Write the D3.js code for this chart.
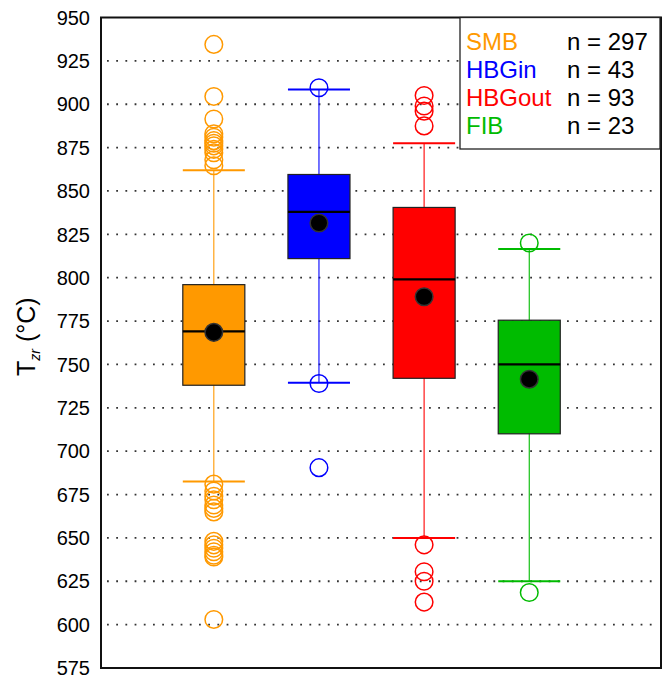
<!DOCTYPE html>
<html>
<head>
<meta charset="utf-8">
<script src="https://cdn.jsdelivr.net/npm/d3@7"></script>
<style>
  html, body { margin: 0; padding: 0; background: #fff; }
  svg { display: block; font-family: "Liberation Sans", Arial, sans-serif; }
</style>
</head>
<body>
<svg id="chart" width="667" height="680"></svg>
<script>
// Zircon saturation temperature by group
const categories = ["SMB", "HBGin", "HBGout", "FIB"];
const counts = [297, 43, 93, 23];
const colors = ["#ff9900", "#0000ff", "#ff0000", "#00bb00"];
const q1 = [738, 811, 742, 710];
const medians = [769, 838, 799, 750];
const q3 = [796, 859.5, 840.5, 775.5];
const whiskerLow = [682.5, 739.5, 650, 625];
const whiskerHigh = [862, 908.5, 877.5, 816.5];
const means = [768.5, 831.5, 789, 741.5];
const outliersSMB = [934.5, 904.5, 891.5, 883, 881, 879, 877.5, 876, 874, 872, 868, 864.5,
                     681, 677, 674, 672, 669, 667, 665, 648, 646, 644, 642, 640, 639, 603];
const outliersHBGin = [909.5, 739, 690.5];
const outliersHBGout = [905, 899, 896, 887.5, 646, 630.5, 625, 613];
const outliersFIB = [820, 618.5];
const outliers = [outliersSMB, outliersHBGin, outliersHBGout, outliersFIB];
const yTicks = [575, 600, 625, 650, 675, 700, 725, 750, 775, 800, 825, 850, 875, 900, 925, 950];
const gridValues = [600, 625, 650, 675, 700, 725, 750, 775, 800, 825, 850, 875, 900, 925];

const svg = d3.select("#chart");
const frame = { left: 101, right: 661, top: 17.5, bottom: 668 };

const y = d3.scaleLinear().domain([575, 950]).range([frame.bottom, frame.top]);
const x = d3.scaleLinear().domain([-1.073, 4.253]).range([frame.left, frame.right]);
const boxHalf = 0.295;   // half box width, category units
const k = x(1) - x(0);

// dotted horizontal grid
svg.append("g").selectAll("line").data(gridValues).join("line")
  .attr("x1", frame.left + 6).attr("x2", frame.right - 4)
  .attr("y1", d => y(d)).attr("y2", d => y(d))
  .attr("stroke", "#333").attr("stroke-width", 1.8)
  .attr("stroke-dasharray", "1.8,7.4");

const groups = svg.append("g").selectAll("g").data(categories).join("g");

// whiskers
groups.append("line")
  .attr("x1", (d, i) => x(i)).attr("x2", (d, i) => x(i))
  .attr("y1", (d, i) => y(whiskerHigh[i])).attr("y2", (d, i) => y(whiskerLow[i]))
  .attr("stroke", (d, i) => colors[i]).attr("stroke-width", 1.1);

// whisker caps
["high", "low"].forEach(end => {
  groups.append("line")
    .attr("x1", (d, i) => x(i - boxHalf)).attr("x2", (d, i) => x(i + boxHalf))
    .attr("y1", (d, i) => y(end === "high" ? whiskerHigh[i] : whiskerLow[i]))
    .attr("y2", (d, i) => y(end === "high" ? whiskerHigh[i] : whiskerLow[i]))
    .attr("stroke", (d, i) => colors[i]).attr("stroke-width", 2);
});

// boxes
groups.append("rect")
  .attr("x", (d, i) => x(i - boxHalf))
  .attr("width", 2 * boxHalf * k)
  .attr("y", (d, i) => y(q3[i]))
  .attr("height", (d, i) => y(q1[i]) - y(q3[i]))
  .attr("fill", (d, i) => colors[i])
  .attr("stroke", "#222").attr("stroke-width", 1.2);

// medians
groups.append("line")
  .attr("x1", (d, i) => x(i - boxHalf)).attr("x2", (d, i) => x(i + boxHalf))
  .attr("y1", (d, i) => y(medians[i])).attr("y2", (d, i) => y(medians[i]))
  .attr("stroke", "#000").attr("stroke-width", 2.2);

// outliers
groups.each(function(d, i) {
  d3.select(this).selectAll("circle.out").data(outliers[i]).join("circle")
    .attr("class", "out")
    .attr("cx", x(i)).attr("cy", v => y(v)).attr("r", 8.8)
    .attr("fill", "none").attr("stroke", colors[i]).attr("stroke-width", 1.5);
});

// means
groups.append("circle")
  .attr("cx", (d, i) => x(i)).attr("cy", (d, i) => y(means[i])).attr("r", 8.8)
  .attr("fill", "#000").attr("stroke", "#333").attr("stroke-width", 1.5);

// plot frame
svg.append("rect")
  .attr("x", frame.left).attr("y", frame.top)
  .attr("width", frame.right - frame.left).attr("height", frame.bottom - frame.top)
  .attr("fill", "none").attr("stroke", "#111").attr("stroke-width", 2);

// y tick labels
svg.append("g").selectAll("text").data(yTicks).join("text")
  .attr("x", 90).attr("y", d => y(d)).attr("dy", "0.36em")
  .attr("text-anchor", "end").attr("font-size", 20).attr("fill", "#000")
  .text(d => d);

// y axis title
const yt = svg.append("text")
  .attr("transform", "translate(35," + (y(766)) + ") rotate(-90)")
  .attr("text-anchor", "middle").attr("font-size", 25).attr("fill", "#000");
yt.append("tspan").text("T");
yt.append("tspan").attr("font-size", 14).attr("font-style", "italic").attr("dy", 5).text("zr");
yt.append("tspan").attr("dy", -5).text(" (°C)");

// legend
const legend = svg.append("g");
legend.append("rect")
  .attr("x", 460).attr("y", 17.5).attr("width", 200).attr("height", 131.5)
  .attr("fill", "#fff").attr("stroke", "#222").attr("stroke-width", 1.3);
const rows = legend.selectAll("g").data(categories).join("g")
  .attr("transform", (d, i) => "translate(0," + (49.5 + i * 28.3) + ")");
rows.append("text").attr("x", 466).attr("font-size", 24)
  .attr("fill", (d, i) => colors[i]).text(d => d);
rows.append("text").attr("x", 567).attr("font-size", 24)
  .attr("fill", "#000").text((d, i) => "n = " + counts[i]);
</script>
</body>
</html>
